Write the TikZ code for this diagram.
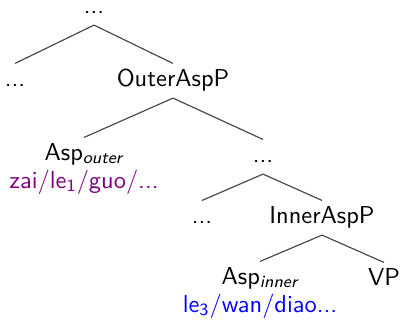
\documentclass[tikz,border=0pt]{standalone}
\usepackage{xcolor}
\definecolor{aspouter}{RGB}{128,0,128}
\definecolor{aspinner}{RGB}{0,0,255}
\begin{document}
\begin{tikzpicture}[x=0.43pt,y=-0.43pt,
  font=\sffamily\fontsize{10.5}{12.6}\selectfont,
  lab/.style={anchor=base,inner sep=3pt,text height=6.5pt,text depth=2pt},
  gloss/.style={anchor=base,inner sep=0pt},
  branch/.style={draw=black!72,line width=0.5pt}]
\useasboundingbox (0,0) rectangle (401,322);
\node[lab,text height=2pt] (top) at (94,13) {...};
\node[lab] (l1) at (15,86) {...};
\node[lab] (outer) at (173,86) {OuterAspP};
\node[lab] (aspo) at (84,160) {Asp\textsubscript{\itshape outer}};
\node[gloss,text=aspouter] (glo) at (84,188) {zai/le\textsubscript{1}/guo/...};
\node[lab] (d2) at (263,162) {...};
\node[lab] (d3) at (202,223) {...};
\node[lab] (inner) at (322,223) {InnerAspP};
\node[lab] (aspi) at (260,284) {Asp\textsubscript{\itshape inner}};
\node[gloss,text=aspinner] (gli) at (260,312) {le\textsubscript{3}/wan/diao...};
\node[lab] (vp) at (384,285) {VP};
\draw[branch] (top.south) -- (l1.north);
\draw[branch] (top.south) -- (outer.north);
\draw[branch] (outer.south) -- (aspo.north);
\draw[branch] (outer.south) -- (d2.north);
\draw[branch] (d2.south) -- (d3.north);
\draw[branch] (d2.south) -- (inner.north);
\draw[branch] (inner.south) -- (aspi.north);
\draw[branch] (inner.south) -- (vp.north);
\end{tikzpicture}
\end{document}
